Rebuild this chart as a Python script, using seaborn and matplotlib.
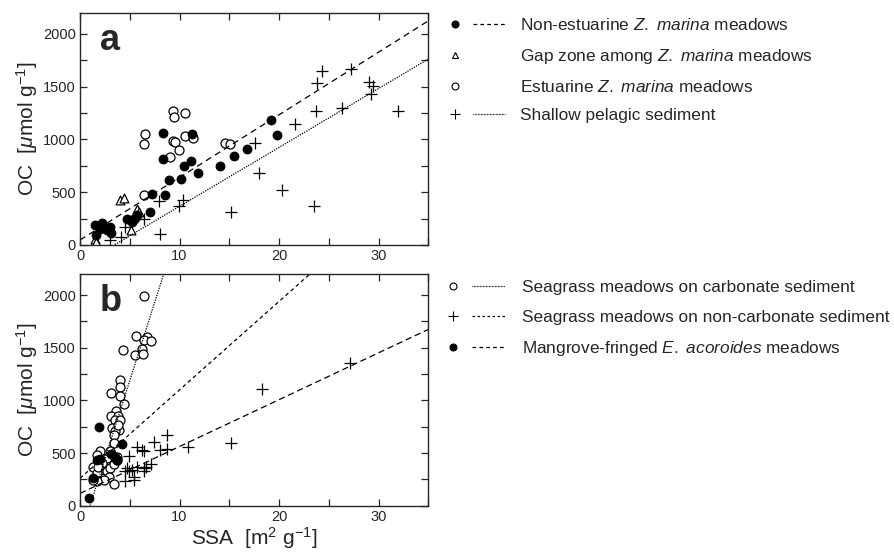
import matplotlib
matplotlib.use("Agg")
import matplotlib.pyplot as plt
from matplotlib.legend_handler import HandlerTuple
from matplotlib.lines import Line2D
from matplotlib.ticker import MultipleLocator
import seaborn as sns
import numpy as np

# ---- panel a: Z. marina data (SSA m2/g, OC umol/g) ----
nonest_x = [1.5, 1.6, 2.2, 2.0, 2.7, 3.0, 3.1, 4.7, 5.4, 5.7, 5.2, 5.5, 7.0, 7.2,
            8.3, 8.3, 8.5, 8.9, 10.1, 10.4, 11.2, 11.3, 11.9, 14.1, 15.5, 16.8, 19.2, 19.8]
nonest_y = [190, 90, 210, 150, 140, 175, 110, 250, 250, 280, 220, 260, 310, 480,
            1065, 815, 470, 615, 625, 745, 795, 1050, 680, 750, 845, 905, 1180, 1045]

gap_x = [1.5, 1.6, 4.0, 4.4, 5.7, 5.1, 5.9]
gap_y = [55, 25, 425, 445, 340, 145, 310]

est_x = [6.5, 6.4, 6.4, 9.0, 9.3, 9.4, 9.3, 9.5, 9.9, 10.6, 10.5, 11.4, 14.6, 15.1]
est_y = [1050, 955, 470, 830, 1270, 1215, 985, 975, 900, 1250, 1035, 1015, 970, 960]

pel_x = [3.0, 4.1, 4.5, 6.4, 7.9, 8.0, 9.9, 10.3, 15.2, 17.6, 18.0, 20.3, 21.6,
         23.7, 23.8, 24.3, 23.5, 26.3, 27.2, 29.0, 29.4, 29.2, 32.0]
pel_y = [50, 80, 170, 250, 420, 105, 365, 425, 310, 970, 680, 520, 1145,
         1270, 1530, 1645, 370, 1295, 1665, 1545, 1505, 1430, 1270]

# regression lines: (intercept, slope, x start)
a_dash = (47, 59.3, 0.0)
a_dot = (-192, 55.8, 3.5)

# ---- panel b: tropical seagrass data ----
carb_x = [6.4, 5.65, 6.7, 6.4, 7.1, 4.3, 5.5, 6.2, 6.3, 4.0, 4.0, 3.1, 4.0, 4.4,
          3.6, 3.1, 3.8, 3.5, 4.0, 3.2, 3.9, 3.5, 3.4, 3.8, 3.4, 2.0, 1.7, 3.0,
          3.7, 2.7, 2.2, 1.35, 2.0, 1.7, 2.7, 3.0, 3.4, 2.9, 2.4, 1.7, 1.35, 3.4,
          3.7, 1.85]
carb_y = [1995, 1610, 1605, 1570, 1560, 1475, 1430, 1485, 1445, 1195, 1125, 1070,
          1040, 965, 895, 855, 850, 815, 810, 735, 720, 705, 670, 765, 600, 515,
          485, 520, 465, 450, 405, 370, 340, 315, 325, 355, 400, 275, 245, 230,
          245, 210, 435, 370]

noncarb_x = [4.5, 5.4, 5.4, 4.5, 4.7, 5.2, 5.7, 6.4, 6.4, 6.6, 7.1, 6.4, 5.7,
             6.2, 4.9, 7.4, 8.0, 8.75, 8.75, 10.9, 15.2, 18.3, 27.1, 4.9]
noncarb_y = [230, 245, 275, 325, 355, 340, 370, 325, 355, 370, 400, 515, 560,
             530, 475, 605, 530, 670, 535, 555, 595, 1105, 1355, 325]

mang_x = [0.9, 1.35, 1.9, 1.7, 2.0, 3.1, 3.5, 3.7, 3.5, 4.2]
mang_y = [70, 260, 745, 430, 440, 490, 450, 430, 465, 585]

b_dot = (-297, 297, 1.0)
b_short = (260, 84, 0.0)
b_long = (117, 44.5, 0.0)

XMAX = 35
YMAX = 2200

sns.set_style("ticks")
plt.rcParams["font.family"] = ["Liberation Sans", "DejaVu Sans"]
plt.rcParams["mathtext.fontset"] = "custom"
plt.rcParams["mathtext.rm"] = "Liberation Sans"
plt.rcParams["mathtext.it"] = "Liberation Sans:italic"
plt.rcParams["mathtext.bf"] = "Liberation Sans:bold"

fig = plt.figure(figsize=(8.94, 5.52), dpi=100)
ax_a = fig.add_axes([0.0895, 0.5562, 0.3896, 0.4208])
ax_b = fig.add_axes([0.0895, 0.0839, 0.3896, 0.4196])

filled = dict(marker="o", s=42, color="black", edgecolor="black", linewidth=0.6)
hollow = dict(marker="o", s=42, color="white", edgecolor="black", linewidth=0.9)
tri = dict(marker="^", s=40, color="white", edgecolor="black", linewidth=0.9)
cross = dict(marker="+", s=80, color="black", linewidth=0.9)

# panel a
sns.scatterplot(x=pel_x, y=pel_y, ax=ax_a, **cross)
sns.scatterplot(x=gap_x, y=gap_y, ax=ax_a, **tri)
sns.scatterplot(x=est_x, y=est_y, ax=ax_a, **hollow)
sns.scatterplot(x=nonest_x, y=nonest_y, ax=ax_a, **filled)


def reg_line(ax, params, **kw):
    b0, b1, x0 = params
    xs = np.array([x0, XMAX])
    ax.plot(xs, b0 + b1 * xs, color="black", **kw)


reg_line(ax_a, a_dash, lw=0.9, dashes=(5, 3.5))
reg_line(ax_a, a_dot, lw=0.9, dashes=(1, 1))

# panel b
sns.scatterplot(x=noncarb_x, y=noncarb_y, ax=ax_b, **cross)
sns.scatterplot(x=carb_x, y=carb_y, ax=ax_b, **hollow)
sns.scatterplot(x=mang_x, y=mang_y, ax=ax_b, **filled)

reg_line(ax_b, b_dot, lw=0.9, dashes=(1, 1))
reg_line(ax_b, b_short, lw=0.9, dashes=(3, 2.5))
reg_line(ax_b, b_long, lw=0.9, dashes=(5, 3))

for ax, letter in [(ax_a, "a"), (ax_b, "b")]:
    ax.set_xlim(0, XMAX)
    ax.set_ylim(0, YMAX)
    ax.xaxis.set_major_locator(MultipleLocator(10))
    ax.xaxis.set_minor_locator(MultipleLocator(5))
    ax.yaxis.set_major_locator(MultipleLocator(500))
    ax.yaxis.set_minor_locator(MultipleLocator(250))
    ax.tick_params(which="both", direction="in", top=True, right=True,
                   labelsize=10.5, width=0.9, pad=3)
    ax.tick_params(which="major", length=5)
    ax.tick_params(which="minor", length=5)
    for sp in ax.spines.values():
        sp.set_linewidth(1.0)
        sp.set_visible(True)
    ax.set_ylabel(r"OC  [$\mu$mol g$^{-1}$]", fontsize=15, labelpad=2)
    ax.text(2.0, 1850, letter, fontsize=26, fontweight="bold")

ax_b.set_xlabel(r"SSA  [m$^{2}$ g$^{-1}$]", fontsize=15, labelpad=1)


def mk(marker, face, size=5):
    return Line2D([], [], marker=marker, color="black", markerfacecolor=face,
                  markeredgecolor="black", markersize=size, linestyle="none",
                  markeredgewidth=0.8)


def ln(dashes):
    if dashes is None:
        return Line2D([], [], linestyle="none")
    return Line2D([], [], color="black", lw=0.9, dashes=dashes)


labels_a = [r"Non-estuarine $\mathit{Z.}$ $\mathit{marina}$ meadows",
            r"Gap zone among $\mathit{Z.}$ $\mathit{marina}$ meadows",
            r"Estuarine $\mathit{Z.}$ $\mathit{marina}$ meadows",
            "Shallow pelagic sediment"]
handles_a = [(mk("o", "black"), ln((3, 2.5))),
             (mk("^", "white"), ln(None)),
             (mk("o", "white"), ln(None)),
             (mk("+", "none", 7), ln((0.6, 0.6)))]

labels_b = ["Seagrass meadows on carbonate sediment",
            "Seagrass meadows on non-carbonate sediment",
            r"Mangrove-fringed $\mathit{E.}$ $\mathit{acoroides}$ meadows"]
handles_b = [(mk("o", "white"), ln((0.6, 0.6))),
             (mk("+", "none", 7), ln((2, 2))),
             (mk("o", "black"), ln((3, 2.5)))]

hmap = {tuple: HandlerTuple(ndivide=None, pad=0.12)}
fig.legend(handles_a, labels_a, handler_map=hmap, loc="upper left",
           bbox_to_anchor=(0.491, 0.969), frameon=False, fontsize=12.4,
           handlelength=3.84, handletextpad=0.87, labelspacing=0.78,
           borderpad=0, borderaxespad=0)
fig.legend(handles_b, labels_b, handler_map=hmap, loc="upper left",
           bbox_to_anchor=(0.488, 0.492), frameon=False, fontsize=12.4,
           handlelength=4.0, handletextpad=0.97, labelspacing=0.82,
           borderpad=0, borderaxespad=0)

fig.savefig("out.png", dpi=100)
